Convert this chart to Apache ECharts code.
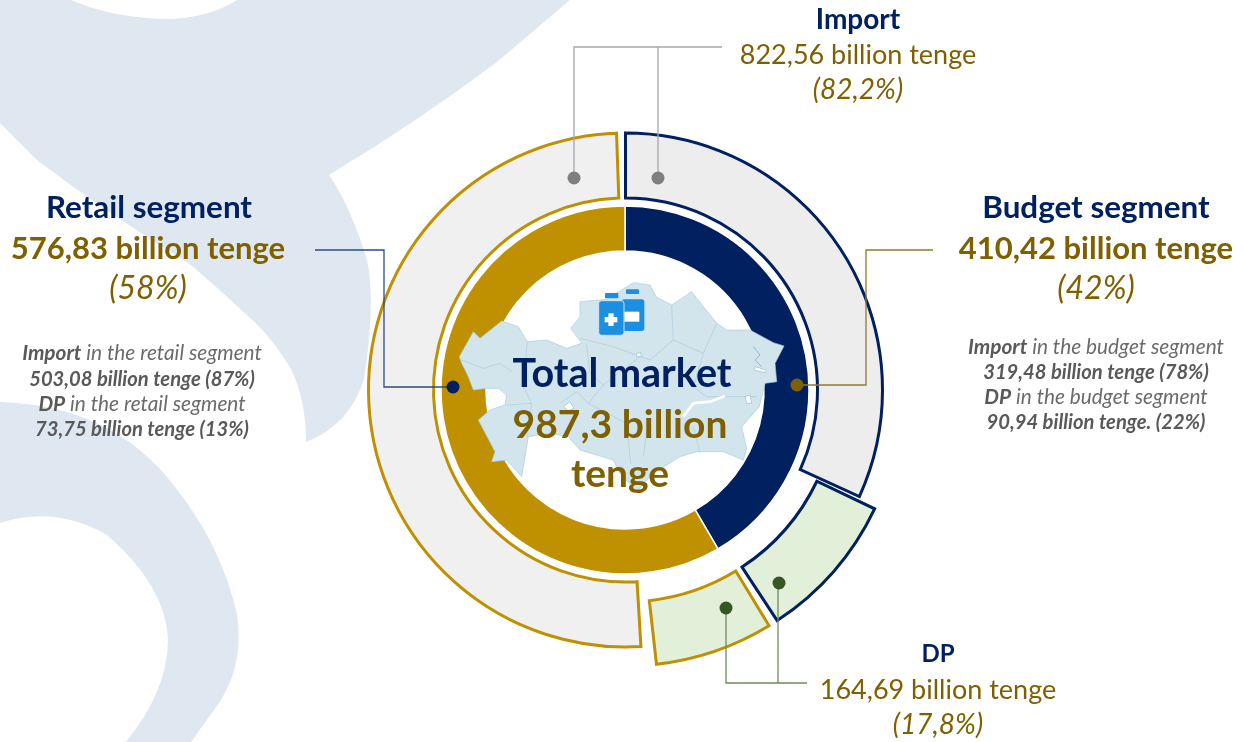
<!DOCTYPE html>
<html>
<head>
<meta charset="utf-8">
<title>Market</title>
<style>
html, body { margin: 0; padding: 0; background: #fff; }
#main { width: 1244px; height: 742px; }
</style>
<script src="https://cdn.jsdelivr.net/npm/echarts@6/dist/echarts.min.js"></script>
</head>
<body>
<div id="main"></div>
<script>
// values, billion tenge. index 0 = budget, index 1 = retail
var segmentNames = ['Budget segment', 'Retail segment'];
var segmentValues = [410.42, 576.83];
var segmentShares = [42, 58];
var importValues = [319.48, 503.08];
var importShares = [78, 87];
var dpValues = [90.94, 73.75];
var dpShares = [22, 13];
var totalMarket = '987,3';
var importTotal = '822,56';
var importTotalShare = '82,2%';
var dpTotal = '164,69';
var dpTotalShare = '17,8%';

var NAVY = '#002060', GOLD = '#bf9000', BROWN = '#7f6000', GREY_TEXT = '#595959';
var FONT = 'Lato, "Open Sans", sans-serif';

function fmt(v) { return v.toFixed(2).replace('.', ','); }

var myChart = echarts.init(document.getElementById('main'), null, { renderer: 'canvas' });

// ---- decoration: pale logo behind the chart
echarts.graphic.registerShape('logoTop', echarts.graphic.extendPath('M71 0 Q115 19 172 19 Q210 17 237 0 L570 0 L497 62 Q420 120 329 175 Q350 205 367 260 Q376 300 364 379 Q350 425 306 442 Q306 400 291 369 Q270 335 249 317 Q220 290 191 265 Q110 215 38 161 L0 123 L0 0 Z'));
echarts.graphic.registerShape('logoBottom', echarts.graphic.extendPath('M0 402 Q110 405 172 483 Q222 545 237 615 Q245 670 214 710 L191 742 L126 742 Q168 690 168 639 Q165 585 107 535 Q55 505 0 523 Z'));
var background = [
    { type: 'logoTop', z: -1, silent: true, style: { fill: '#dfe8f1' } },
    { type: 'logoBottom', z: -1, silent: true, style: { fill: '#dfe8f1' } }
];

// ---- decoration: map + vials, traced in 3x units from (440,260)
var mapOutline = [[58,290],[100,215],[120,235],[185,183],[235,200],[262,245],[320,240],[380,265],[425,250],[392,205],[420,170],[420,125],[500,118],[580,68],[630,75],[650,112],[695,135],[755,95],[830,190],[860,210],[930,210],[1000,248],[1032,258],[1005,310],[1010,365],[975,370],[958,440],[905,500],[920,565],[910,600],[850,575],[770,575],[720,590],[640,640],[590,695],[540,640],[520,600],[420,570],[385,530],[330,520],[265,530],[245,650],[200,600],[155,605],[165,575],[115,480],[150,450],[195,435],[200,405],[175,385],[140,385],[100,390],[85,350],[65,310]];
var mapLines = [
    [[65,300],[130,325],[180,310],[215,335]],
    [[262,245],[250,380],[275,430],[200,435]],
    [[440,255],[450,340],[490,375],[445,430],[410,395],[360,430]],
    [[420,235],[520,260],[630,300],[700,240],[695,135]],
    [[700,240],[790,280],[830,190]],
    [[790,280],[760,380],[800,410],[950,410]],
    [[600,290],[490,375]],
    [[445,430],[560,490],[572,610]],
    [[620,510],[610,590]],
    [[760,500],[780,578]],
    [[275,430],[262,530]]
];
var mapChildren = [{ type: 'polygon', shape: { points: mapOutline }, style: { fill: '#d2e4ec', stroke: '#a9cddd', lineWidth: 2 } }];
mapLines.forEach(function (p) {
    mapChildren.push({ type: 'polyline', shape: { points: p }, style: { fill: null, stroke: '#a9cddd', lineWidth: 2 } });
});
mapChildren.push(
    { type: 'polyline', shape: { points: [[730,470],[760,430],[810,425],[855,408]] }, style: { fill: null, stroke: '#fff', lineWidth: 8 } },
    { type: 'polygon', shape: { points: [[915,410],[930,405],[935,430],[920,430]] }, style: { fill: '#fff', stroke: '#8fbdd3', lineWidth: 2 } },
    { type: 'polyline', shape: { points: [[940,260],[960,285],[945,300],[965,320]] }, style: { fill: null, stroke: '#8fbdd3', lineWidth: 3 } },
    { type: 'polygon', shape: { points: [[945,320],[980,330],[975,338],[942,330]] }, style: { fill: '#fff', stroke: '#8fbdd3', lineWidth: 2 } },
    { type: 'polygon', shape: { points: [[590,280],[602,278],[604,290],[590,290]] }, style: { fill: '#fff', stroke: '#8fbdd3', lineWidth: 2 } },
    { type: 'polygon', shape: { points: [[370,440],[390,425],[402,445],[385,452]] }, style: { fill: '#fff', stroke: '#8fbdd3', lineWidth: 2 } },
    // vials
    { type: 'rect', shape: { x: 558, y: 88, width: 39, height: 14, r: 2 }, style: { fill: '#1b8fe0' } },
    { type: 'rect', shape: { x: 545, y: 118, width: 68, height: 95, r: 8 }, style: { fill: '#1b8fe0' } },
    { type: 'rect', shape: { x: 553, y: 155, width: 45, height: 30 }, style: { fill: '#fff' } },
    { type: 'rect', shape: { x: 495, y: 99, width: 40, height: 16, r: 2 }, style: { fill: '#1b8fe0' } },
    { type: 'rect', shape: { x: 476, y: 122, width: 76, height: 104, r: 9 }, style: { fill: '#1b8fe0', stroke: '#d2e4ec', lineWidth: 3 } },
    { type: 'rect', shape: { x: 505, y: 160, width: 16, height: 38 }, style: { fill: '#fff' } },
    { type: 'rect', shape: { x: 494, y: 171, width: 38, height: 16 }, style: { fill: '#fff' } }
);
var mapGroup = { type: 'group', x: 440, y: 260, scaleX: 1 / 3, scaleY: 1 / 3, z: 5, silent: true, children: mapChildren.map(function (c) { c.z = 5; return c; }) };

// ---- leader lines
function leader(points, color) {
    return { type: 'polyline', z: 6, silent: true, shape: { points: points }, style: { fill: null, stroke: color, lineWidth: 1.3 } };
}
function dot(x, y, color) {
    return { type: 'circle', z: 7, silent: true, shape: { cx: x, cy: y, r: 6.5 }, style: { fill: color } };
}
var leaders = [
    leader([[722, 47], [574, 47], [574, 178]], '#a6a6a6'),
    leader([[658, 47], [658, 178]], '#a6a6a6'),
    dot(574, 178, '#7f7f7f'),
    dot(658, 178, '#7f7f7f'),
    leader([[315, 250], [384, 250], [384, 387], [453, 387]], '#2f4a80'),
    dot(453, 387, NAVY),
    leader([[933, 250], [866, 250], [866, 385], [797, 385]], '#8f7a30'),
    dot(797, 385, BROWN),
    leader([[807, 683], [726, 683], [726, 608]], '#6f8a5f'),
    leader([[778, 683], [778, 583]], '#6f8a5f'),
    dot(726, 608, '#375623'),
    dot(779, 583, '#375623')
];

// ---- texts
function label(text, x, y, size, color, weight, style) {
    return { type: 'text', z: 10, silent: true, style: {
        text: text, x: x, y: y, align: 'center', verticalAlign: 'middle',
        fontFamily: FONT, fontSize: size, fill: color, fontWeight: weight || 'normal', fontStyle: style || 'normal'
    } };
}
function mixed(boldPart, rest, x, y) {
    return { type: 'text', z: 10, silent: true, style: {
        text: '{b|' + boldPart + '}{i| ' + rest + '}', x: x, y: y, align: 'center', verticalAlign: 'middle',
        rich: {
            b: { fontFamily: FONT, fontSize: 20.8, fontWeight: 'bold', fontStyle: 'italic', fill: GREY_TEXT },
            i: { fontFamily: FONT, fontSize: 20.8, fontStyle: 'italic', fill: '#6b6b6b' }
        }
    } };
}
function subBold(text, x, y) { return label(text, x, y, 20.2, GREY_TEXT, 'bold', 'italic'); }

var texts = [
    label('Import', 858, 20, 28, NAVY, 'bold'),
    label(importTotal + ' billion tenge', 858, 55, 27, BROWN),
    label('(' + importTotalShare + ')', 858, 90, 28, BROWN, 'normal', 'italic'),

    label(segmentNames[1], 149, 208, 31.4, NAVY, 'bold'),
    label(fmt(segmentValues[1]) + ' billion tenge', 148, 249, 31, BROWN, 'bold'),
    label('(' + segmentShares[1] + '%)', 148, 289, 32, BROWN, 'normal', 'italic'),
    mixed('Import', 'in the retail segment', 142, 353),
    subBold(fmt(importValues[1]) + ' billion tenge (' + importShares[1] + '%)', 142, 379),
    mixed('DP', 'in the retail segment', 142, 404),
    subBold(fmt(dpValues[1]) + ' billion tenge (' + dpShares[1] + '%)', 142, 429),

    label(segmentNames[0], 1096, 208, 31.4, NAVY, 'bold'),
    label(fmt(segmentValues[0]) + ' billion tenge', 1096, 249, 31, BROWN, 'bold'),
    label('(' + segmentShares[0] + '%)', 1096, 289, 32, BROWN, 'normal', 'italic'),
    mixed('Import', 'in the budget segment', 1096, 347),
    subBold(fmt(importValues[0]) + ' billion tenge (' + importShares[0] + '%)', 1096, 372),
    mixed('DP', 'in the budget segment', 1096, 397),
    subBold(fmt(dpValues[0]) + ' billion tenge. (' + dpShares[0] + '%)', 1096, 422),

    label('DP', 938, 654, 24, NAVY, 'bold'),
    label(dpTotal + ' billion tenge', 938, 690, 27, BROWN),
    label('(' + dpTotalShare + ')', 938, 725, 28, BROWN, 'normal', 'italic'),

    label('Total market', 622, 374, 39.5, NAVY, 'bold'),
    label(totalMarket + ' billion', 620, 425, 39, BROWN, 'bold'),
    label('tenge', 620, 474, 39, BROWN, 'bold')
];

// ---- series
function hidden(v) {
    return { value: v, itemStyle: { color: 'transparent', borderWidth: 0 } };
}
function outlined(v, name, fill, stroke) {
    return { value: v, name: name, itemStyle: { color: fill, borderColor: stroke, borderWidth: 3, borderJoin: 'miter' } };
}
var dpSum = dpValues[0] + dpValues[1];

var pieBase = {
    type: 'pie',
    center: [625.5, 390],
    silent: true,
    animation: false,
    label: { show: false },
    labelLine: { show: false },
    avoidLabelOverlap: false
};

myChart.setOption({
    animation: false,
    graphic: { elements: background.concat([mapGroup], leaders, texts) },
    series: [
        Object.assign({}, pieBase, {
            name: 'Segments',
            center: [625, 390],
            radius: [139, 184],
            startAngle: 90,
            clockwise: true,
            itemStyle: { borderColor: '#fff', borderWidth: 1.5 },
            data: [
                { value: segmentValues[0], name: segmentNames[0], itemStyle: { color: NAVY } },
                { value: segmentValues[1], name: segmentNames[1], itemStyle: { color: GOLD } }
            ]
        }),
        Object.assign({}, pieBase, {
            name: 'Import',
            radius: [192, 257],
            startAngle: 91,
            padAngle: 2,
            data: [
                outlined(importValues[0], 'Import budget', '#ededed', NAVY),
                hidden(dpSum),
                outlined(importValues[1], 'Import retail', '#f0f0f0', GOLD)
            ]
        }),
        Object.assign({}, pieBase, {
            name: 'DP',
            radius: [212, 276],
            startAngle: 92,
            padAngle: 2,
            data: [
                hidden(importValues[0]),
                outlined(dpValues[0], 'DP budget', '#e2efd9', NAVY),
                outlined(dpValues[1], 'DP retail', '#e2efd9', GOLD),
                hidden(importValues[1])
            ]
        })
    ]
});
</script>
</body>
</html>
